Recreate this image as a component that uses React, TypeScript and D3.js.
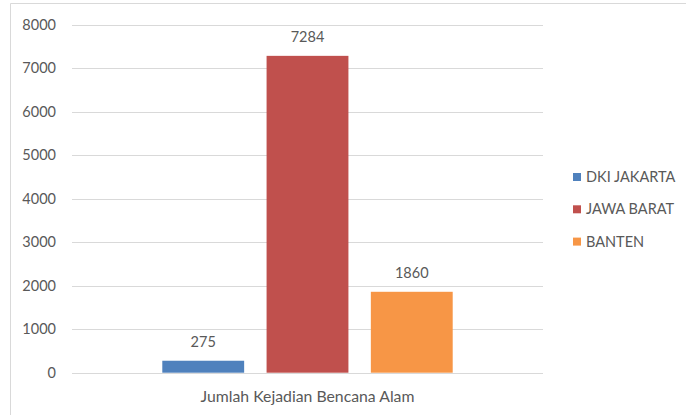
import React, { useEffect, useRef } from "react";
import * as d3 from "d3";

const category = "Jumlah Kejadian Bencana Alam";
const provinces = ["DKI JAKARTA", "JAWA BARAT", "BANTEN"];
const values = [275, 7284, 1860];
const colours = ["#4f81bd", "#c0504d", "#f79646"];
const yTicks = [0, 1000, 2000, 3000, 4000, 5000, 6000, 7000, 8000];

export default function App() {
  const svgRef = useRef<SVGSVGElement | null>(null);

  useEffect(() => {
    const width = 686;
    const height = 415;
    const font = "Lato, sans-serif";
    const fontSize = "14.5px";
    const textColour = "#595959";

    const svg = d3.select(svgRef.current);
    svg.selectAll("*").remove();

    svg.append("rect").attr("width", width).attr("height", height).attr("fill", "#fff");

    // chart area border (cropped at right and bottom)
    svg
      .append("path")
      .attr("d", `M10.5,${height} V3.5 H${width}`)
      .attr("fill", "none")
      .attr("stroke", "#d9d9d9");

    const x0 = d3.scaleBand().domain([category]).range([72, 543]);
    const x1 = d3
      .scaleBand()
      .domain(provinces)
      .range([90.3, 471 - 90.3])
      .paddingInner(0.215);
    const y = d3.scaleLinear().domain([0, 8000]).range([372.7, 24.7]);

    // gridlines
    svg
      .append("g")
      .selectAll("line")
      .data(yTicks)
      .join("line")
      .attr("x1", 72)
      .attr("x2", 543)
      .attr("y1", (d) => Math.round(y(d)) + 0.5)
      .attr("y2", (d) => Math.round(y(d)) + 0.5)
      .attr("stroke", "#d9d9d9");

    // y labels
    svg
      .append("g")
      .selectAll("text")
      .data(yTicks)
      .join("text")
      .attr("x", 56)
      .attr("y", (d) => y(d))
      .attr("dy", "0.35em")
      .attr("text-anchor", "end")
      .style("font-family", font)
      .style("font-size", fontSize)
      .attr("fill", textColour)
      .text((d) => d);

    const g = svg.append("g").attr("transform", `translate(${x0(category)},0)`);

    g.selectAll("rect")
      .data(values)
      .join("rect")
      .attr("x", (d, i) => x1(provinces[i])!)
      .attr("width", x1.bandwidth())
      .attr("y", (d) => y(d))
      .attr("height", (d) => y(0) - y(d))
      .attr("fill", (d, i) => colours[i]);

    g.selectAll("text")
      .data(values)
      .join("text")
      .attr("x", (d, i) => x1(provinces[i])! + x1.bandwidth() / 2)
      .attr("y", (d) => y(d) - 14)
      .attr("text-anchor", "middle")
      .style("font-family", font)
      .style("font-size", fontSize)
      .attr("fill", textColour)
      .text((d) => d);

    // category label
    svg
      .append("text")
      .attr("x", x0(category)! + x0.bandwidth() / 2)
      .attr("y", 402)
      .attr("text-anchor", "middle")
      .style("font-family", font)
      .style("font-size", "15.8px")
      .attr("fill", textColour)
      .text(category);

    // legend
    const legend = svg
      .append("g")
      .selectAll("g")
      .data(provinces)
      .join("g")
      .attr("transform", (d, i) => `translate(573,${177 + i * 32.3})`);

    legend
      .append("rect")
      .attr("x", 0)
      .attr("y", -4)
      .attr("width", 8)
      .attr("height", 8)
      .attr("fill", (d, i) => colours[i]);

    legend
      .append("text")
      .attr("x", 13)
      .attr("y", 0)
      .attr("dy", "0.35em")
      .style("font-family", font)
      .style("font-size", fontSize)
      .attr("fill", textColour)
      .text((d) => d);
  }, []);

  return (
    <svg
      ref={svgRef}
      width={686}
      height={415}
      style={{ position: "absolute", left: 0, top: 0 }}
    />
  );
}
